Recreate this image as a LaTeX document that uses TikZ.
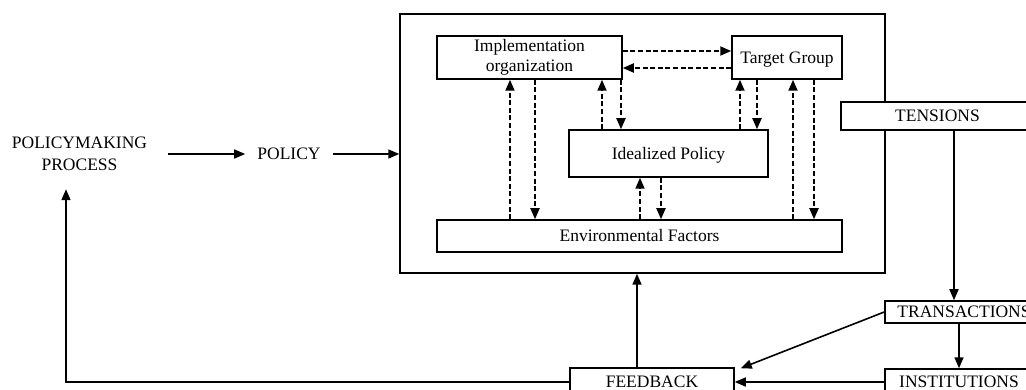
\documentclass[tikz,border=0pt]{standalone}
\usepackage{fontspec}
\setmainfont{Liberation Serif}
\usetikzlibrary{arrows.meta}
\begin{document}
\begin{tikzpicture}[x=1pt,y=-1pt,
  box/.style={draw, line width=1.5pt, fill=white, inner sep=0pt},
  txt/.style={font=\fontsize{17.5}{20}\selectfont},
  one/.style={txt, text height=11.6pt, text depth=0pt},
  arr/.style={line width=1.6pt, -{Triangle[length=11pt,width=9pt]}},
  darr/.style={line width=1.8pt, dash pattern=on 5pt off 2.6pt, -{Triangle[length=11pt,width=9pt]}},
]
\useasboundingbox (0,0) rectangle (1026,390);

% implementation frame
\node[box, minimum width=485pt, minimum height=259pt] (outer) at (642.5,143.5) {};
\node[box, txt, align=center, minimum width=185pt, minimum height=43pt] (impl) at (529.5,57.5) {Implementation\\organization};
\node[box, one, minimum width=110pt, minimum height=43pt] (target) at (787,57.5) {Target Group};
\node[box, one, minimum width=199pt, minimum height=47pt] (ideal) at (668.5,153.5) {Idealized Policy};
\node[box, one, minimum width=405pt, minimum height=32pt] (env) at (639.5,236) {Environmental Factors};

% right-hand chain
\node[box, one, minimum width=193pt, minimum height=28pt] (tensions) at (937.5,116) {TENSIONS};
\node[box, one, minimum width=158pt, minimum height=22pt] (transactions) at (964,312) {TRANSACTIONS};
\node[box, one, minimum width=148pt, minimum height=26pt] (institutions) at (959,382) {INSTITUTIONS};
\node[box, one, minimum width=164pt, minimum height=28pt] (feedback) at (652,382) {FEEDBACK};

% left-hand labels
\node[font=\fontsize{17.5}{22}\selectfont, align=center, inner sep=0pt, minimum height=70pt] (pmp) at (79.5,154) {POLICYMAKING\\PROCESS};
\node[one, inner xsep=12pt, inner ysep=0pt] (policy) at (289,154) {POLICY};

% solid connectors
\draw[arr, shorten <=21pt] (pmp.east |- policy.west) -- (policy.west);
\draw[arr] (policy.east) -- (policy.east -| outer.west);
\draw[arr] ([xshift=-15pt]feedback.north) -- ([xshift=-15pt]feedback.north |- outer.south);
\draw[arr] (954,0 |- tensions.south) -- (954,0 |- transactions.north);
\draw[arr] (959,0 |- transactions.south) -- (959,0 |- institutions.north);
\draw[arr] (transactions.west) -- ([xshift=6pt,yshift=-1pt]feedback.north east);
\draw[arr] (institutions.west) -- (feedback.east);
\draw[arr] (feedback.west) -| ([xshift=-13.5pt]pmp.south);

% dashed interactions inside the frame
\draw[darr] (impl.east |- 0,51) -- (target.west |- 0,51);
\draw[darr] (target.west |- 0,68) -- (impl.east |- 0,68);
\foreach \x/\a/\b in {510/env.north/impl.south, 535/impl.south/env.north,
                      602/ideal.north/impl.south, 621/impl.south/ideal.north,
                      740/ideal.north/target.south, 757/target.south/ideal.north,
                      793/env.north/target.south, 814/target.south/env.north,
                      640/env.north/ideal.south, 661/ideal.south/env.north}
  \draw[darr] (\x,0 |- \a) -- (\x,0 |- \b);
\end{tikzpicture}
\end{document}
